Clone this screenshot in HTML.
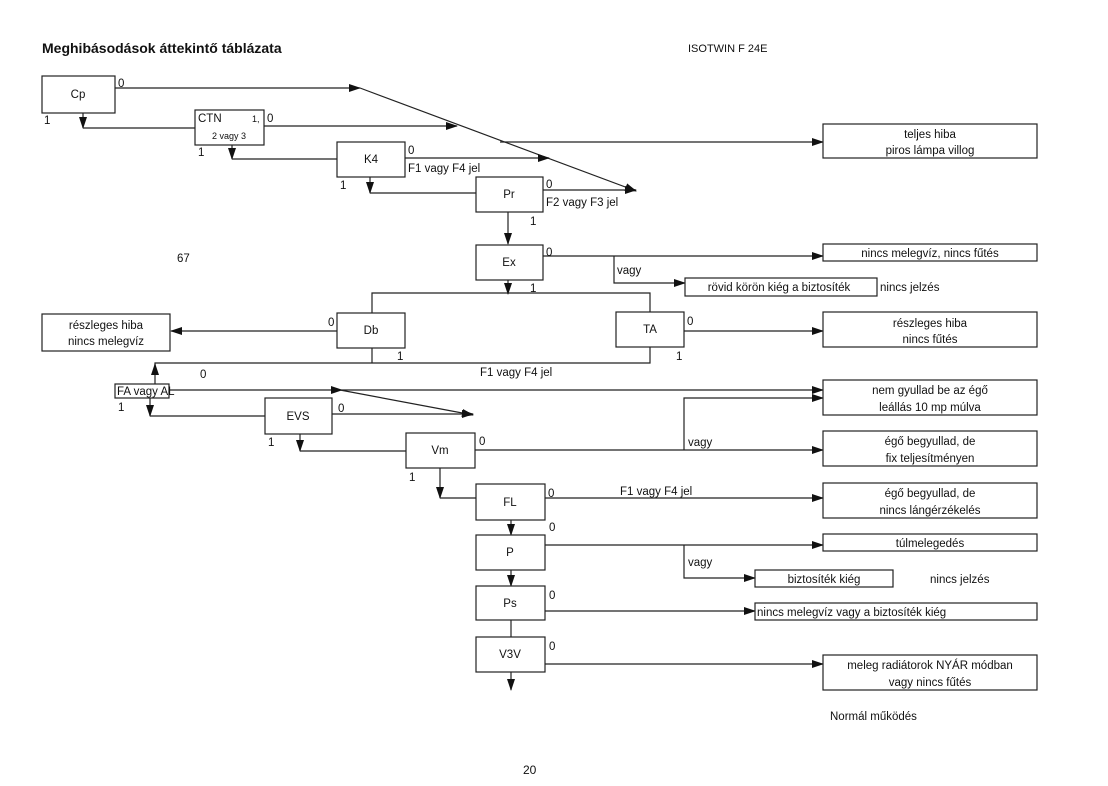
<!DOCTYPE html>
<html><head><meta charset="utf-8"><style>
body{margin:0;background:#fff}
svg{display:block}
text{font-family:"Liberation Sans",sans-serif;font-size:11.5px;fill:#111}
.c{text-anchor:middle}
rect{fill:#fff;stroke:#222;stroke-width:1.2}
line,polyline{stroke:#222;stroke-width:1.2;fill:none}
</style></head><body>
<svg width="1108" height="786" viewBox="0 0 1108 786">
<defs><marker id="a" markerWidth="12" markerHeight="8" refX="11" refY="4" orient="auto" markerUnits="userSpaceOnUse"><path d="M0,0L12,4L0,8z" fill="#111"/></marker></defs>
<text x="42" y="53" style="font-size:14px;font-weight:bold">Meghibásodások áttekintő táblázata</text>
<text x="688" y="52" style="font-size:11px">ISOTWIN F 24E</text>
<text x="177" y="262">67</text>
<text x="523" y="774" style="font-size:12px">20</text>
<text x="830" y="720">Normál működés</text>

<!-- lines -->
<line x1="115" y1="88" x2="360" y2="88" marker-end="url(#a)"/>
<line x1="360" y1="88" x2="636" y2="191" marker-end="url(#a)" stroke-width="1.6"/>
<line x1="264" y1="126" x2="457" y2="126" marker-end="url(#a)"/>
<line x1="500" y1="142" x2="823" y2="142" marker-end="url(#a)"/>
<line x1="405" y1="158" x2="549" y2="158" marker-end="url(#a)"/>
<line x1="543" y1="190" x2="636" y2="190" marker-end="url(#a)"/>
<line x1="83" y1="113" x2="83" y2="128" marker-end="url(#a)"/>
<line x1="83" y1="128" x2="195" y2="128"/>
<line x1="232" y1="145" x2="232" y2="159" marker-end="url(#a)"/>
<line x1="232" y1="159" x2="337" y2="159"/>
<line x1="370" y1="177" x2="370" y2="193" marker-end="url(#a)"/>
<line x1="370" y1="193" x2="476" y2="193"/>
<line x1="508" y1="212" x2="508" y2="244" marker-end="url(#a)"/>
<line x1="543" y1="256" x2="823" y2="256" marker-end="url(#a)"/>
<polyline points="614,256 614,283 685,283" marker-end="url(#a)"/>
<line x1="508" y1="280" x2="508" y2="294" marker-end="url(#a)"/>
<polyline points="372,313 372,293 650,293 650,312"/>
<line x1="337" y1="331" x2="171" y2="331" marker-end="url(#a)"/>
<line x1="684" y1="331" x2="823" y2="331" marker-end="url(#a)"/>
<polyline points="372,348 372,363"/>
<polyline points="650,347 650,363 155,363 155,384" />
<line x1="155" y1="372" x2="155" y2="364" marker-end="url(#a)"/>
<line x1="169" y1="390" x2="342" y2="390" marker-end="url(#a)"/>
<line x1="342" y1="390" x2="823" y2="390" marker-end="url(#a)"/>
<line x1="340" y1="390" x2="473" y2="415" marker-end="url(#a)" stroke-width="1.5"/>
<line x1="332" y1="414" x2="473" y2="414" marker-end="url(#a)"/>
<line x1="150" y1="398" x2="150" y2="416" marker-end="url(#a)"/>
<line x1="150" y1="416" x2="265" y2="416"/>
<line x1="300" y1="434" x2="300" y2="451" marker-end="url(#a)"/>
<line x1="300" y1="451" x2="406" y2="451"/>
<line x1="475" y1="450" x2="823" y2="450" marker-end="url(#a)"/>
<polyline points="684,450 684,398 823,398" marker-end="url(#a)"/>
<line x1="440" y1="468" x2="440" y2="498" marker-end="url(#a)"/>
<line x1="440" y1="498" x2="476" y2="498"/>
<line x1="545" y1="498" x2="823" y2="498" marker-end="url(#a)"/>
<line x1="511" y1="520" x2="511" y2="535" marker-end="url(#a)"/>
<line x1="545" y1="545" x2="823" y2="545" marker-end="url(#a)"/>
<polyline points="684,545 684,578 755,578" marker-end="url(#a)"/>
<line x1="511" y1="570" x2="511" y2="586" marker-end="url(#a)"/>
<line x1="545" y1="611" x2="755" y2="611" marker-end="url(#a)"/>
<line x1="511" y1="620" x2="511" y2="637"/>
<line x1="545" y1="664" x2="823" y2="664" marker-end="url(#a)"/>
<line x1="511" y1="672" x2="511" y2="690" marker-end="url(#a)"/>

<!-- left boxes -->
<rect x="42" y="76" width="73" height="37"/><text x="78" y="98" class="c">Cp</text>
<rect x="195" y="110" width="69" height="35"/><text x="198" y="122">CTN</text><text x="252" y="122" style="font-size:9px">1,</text><text x="229" y="139" class="c" style="font-size:9px">2 vagy 3</text>
<rect x="337" y="142" width="68" height="35"/><text x="371" y="163" class="c">K4</text>
<rect x="476" y="177" width="67" height="35"/><text x="509" y="198" class="c">Pr</text>
<rect x="476" y="245" width="67" height="35"/><text x="509" y="266" class="c">Ex</text>
<rect x="337" y="313" width="68" height="35"/><text x="371" y="334" class="c">Db</text>
<rect x="616" y="312" width="68" height="35"/><text x="650" y="333" class="c">TA</text>
<rect x="115" y="384" width="54" height="14"/><text x="117" y="395">FA vagy AL</text>
<rect x="265" y="398" width="67" height="36"/><text x="298" y="420" class="c">EVS</text>
<rect x="406" y="433" width="69" height="35"/><text x="440" y="454" class="c">Vm</text>
<rect x="476" y="484" width="69" height="36"/><text x="510" y="506" class="c">FL</text>
<rect x="476" y="535" width="69" height="35"/><text x="510" y="556" class="c">P</text>
<rect x="476" y="586" width="69" height="34"/><text x="510" y="607" class="c">Ps</text>
<rect x="476" y="637" width="69" height="35"/><text x="510" y="658" class="c">V3V</text>

<!-- labels -->
<text x="118" y="87">0</text><text x="44" y="124">1</text>
<text x="267" y="122">0</text><text x="198" y="156">1</text>
<text x="408" y="154">0</text><text x="408" y="172">F1 vagy F4 jel</text><text x="340" y="189">1</text>
<text x="546" y="188">0</text><text x="546" y="206">F2 vagy F3 jel</text><text x="530" y="225">1</text>
<text x="546" y="256">0</text><text x="617" y="274">vagy</text><text x="530" y="292">1</text>
<text x="328" y="326">0</text><text x="397" y="360">1</text>
<text x="687" y="325">0</text><text x="676" y="360">1</text>
<text x="200" y="378">0</text><text x="480" y="376">F1 vagy F4 jel</text>
<text x="118" y="411">1</text><text x="338" y="412">0</text><text x="268" y="446">1</text>
<text x="479" y="445">0</text><text x="409" y="481">1</text><text x="688" y="446">vagy</text>
<text x="548" y="497">0</text><text x="620" y="495">F1 vagy F4 jel</text>
<text x="549" y="531">0</text><text x="688" y="566">vagy</text>
<text x="549" y="599">0</text><text x="549" y="650">0</text>

<!-- right boxes -->
<rect x="823" y="124" width="214" height="34"/><text x="930" y="138" class="c">teljes hiba</text><text x="930" y="154" class="c">piros lámpa villog</text>
<rect x="823" y="244" width="214" height="17"/><text x="930" y="257" class="c">nincs melegvíz, nincs fűtés</text>
<rect x="685" y="278" width="192" height="18"/><text x="779" y="291" class="c">rövid körön kiég a biztosíték</text><text x="880" y="291">nincs jelzés</text>
<rect x="42" y="314" width="128" height="37"/><text x="106" y="329" class="c">részleges hiba</text><text x="106" y="345" class="c">nincs melegvíz</text>
<rect x="823" y="312" width="214" height="35"/><text x="930" y="327" class="c">részleges hiba</text><text x="930" y="343" class="c">nincs fűtés</text>
<rect x="823" y="380" width="214" height="35"/><text x="930" y="394" class="c">nem gyullad be az égő</text><text x="930" y="411" class="c">leállás 10 mp múlva</text>
<rect x="823" y="431" width="214" height="35"/><text x="930" y="445" class="c">égő begyullad, de</text><text x="930" y="462" class="c">fix teljesítményen</text>
<rect x="823" y="483" width="214" height="35"/><text x="930" y="497" class="c">égő begyullad, de</text><text x="930" y="514" class="c">nincs lángérzékelés</text>
<rect x="823" y="534" width="214" height="17"/><text x="930" y="547" class="c">túlmelegedés</text>
<rect x="755" y="570" width="138" height="17"/><text x="824" y="583" class="c">biztosíték kiég</text><text x="930" y="583">nincs jelzés</text>
<rect x="755" y="603" width="282" height="17"/><text x="757" y="616">nincs melegvíz vagy a biztosíték kiég</text>
<rect x="823" y="655" width="214" height="35"/><text x="930" y="669" class="c">meleg radiátorok NYÁR módban</text><text x="930" y="686" class="c">vagy nincs fűtés</text>
</svg>
</body></html>
